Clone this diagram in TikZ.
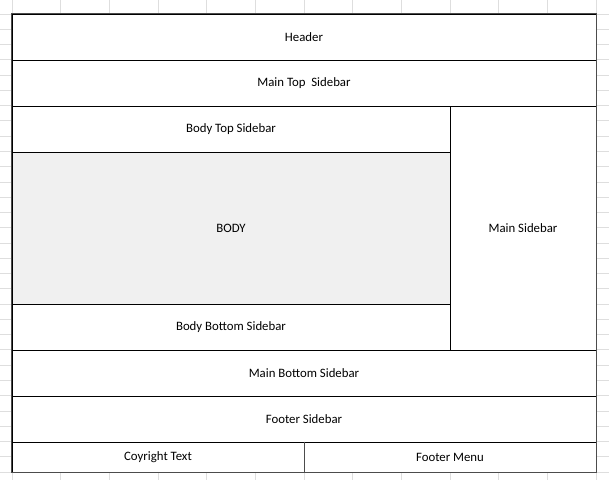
\documentclass[tikz,border=0pt]{standalone}
\usepackage{fontspec}
\setmainfont{Carlito}
\usetikzlibrary{positioning}

\tikzset{
  cell/.style={draw=black, line width=1pt, fill=white, inner sep=0pt,
    font=\fontsize{12.8}{15}\selectfont},
  shaded/.style={cell, fill=black!6},
  gridline/.style={draw=black!13, line width=0.8pt},
  frame/.style={draw=black!70, line width=1.8pt},
}

\begin{document}
\begin{tikzpicture}[x=1pt, y=-1pt]
\useasboundingbox (0,0) rectangle (609,480);

% Sheet grid
\foreach \i in {-1,...,13}
  \draw[gridline] ({12+48.667*\i},0) -- ({12+48.667*\i},480);
\foreach \j in {-1,...,31}
  \draw[gridline] (0,{14+15.267*\j}) -- (609,{14+15.267*\j});

% Full width rows
\node[cell, minimum width=584pt, minimum height=46pt] (header) at (304,37) {Header};
\node[cell, minimum width=584pt, minimum height=46pt] (maintop) at (304,83) {Main Top\ \ Sidebar};

% Body column
\node[cell, minimum width=438pt, minimum height=46pt] (bodytop) at (231,129) {Body Top Sidebar};
\node[shaded, minimum width=438pt, minimum height=152pt] (body) at (231,228) {BODY};
\node[cell, minimum width=438pt, minimum height=46pt] (bodybottom) at (231,327) {Body Bottom Sidebar};

% Right column
\node[cell, minimum width=146pt, minimum height=244pt] (mainside) at (523,228) {Main Sidebar};

% Lower rows
\node[cell, minimum width=584pt, minimum height=46pt] (mainbottom) at (304,373) {Main Bottom Sidebar};
\node[cell, minimum width=584pt, minimum height=46pt] (footerside) at (304,419) {Footer Sidebar};
\node[cell, minimum width=292pt, minimum height=30pt] (copyright) at (158,457) {Coyright Text};
\node[cell, minimum width=292pt, minimum height=30pt] (footermenu) at (450,457) {Footer Menu};

% Outer frame
\draw[frame] (header.north west) rectangle (footermenu.south east);
\draw[frame] (copyright.north east) -- (copyright.south east);

\end{tikzpicture}
\end{document}
